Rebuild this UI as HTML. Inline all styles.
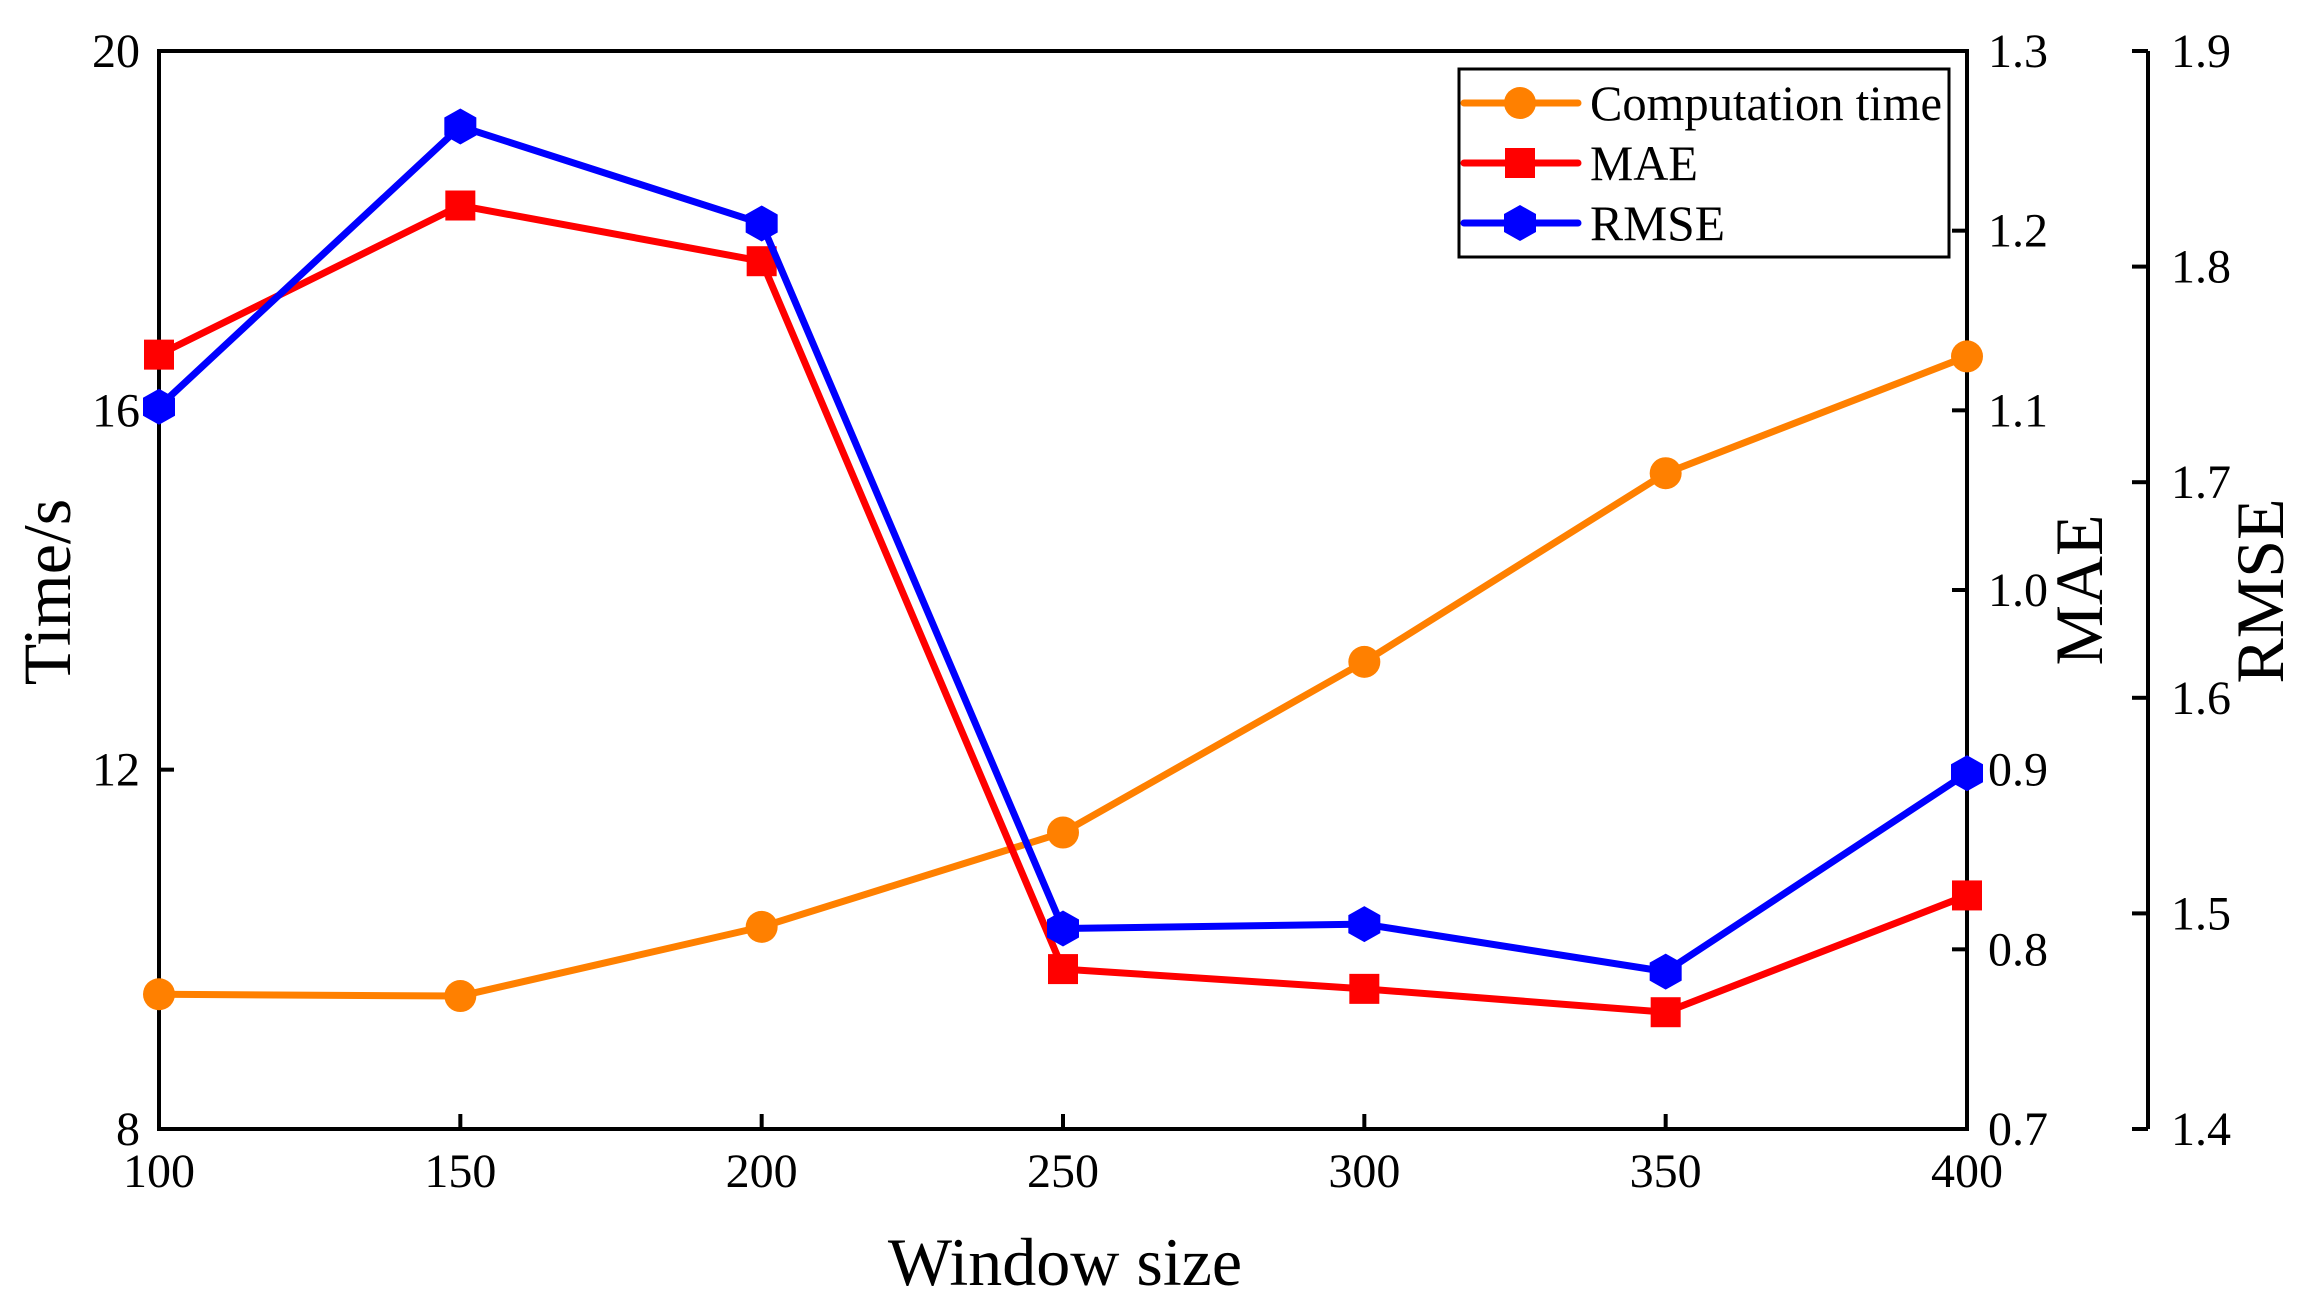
<!DOCTYPE html>
<html><head><meta charset="utf-8"><style>
html,body{margin:0;padding:0;background:#fff}
svg text{font-family:"Liberation Serif",serif;fill:#000}
</style></head><body>
<svg id="chart" width="2302" height="1310" viewBox="0 0 2302 1310" xmlns="http://www.w3.org/2000/svg">
<g id="grid"></g>
</svg>
<script>
const categories=[100,150,200,250,300,350,400];
const timeValues=[9.5,9.48,10.25,11.3,13.2,15.3,16.6];
const maeValues=[1.131,1.214,1.183,0.789,0.778,0.765,0.830];
const rmseValues=[1.735,1.865,1.820,1.493,1.495,1.473,1.565];
const xTicks=[100,150,200,250,300,350,400];
const timeTicks=[8,12,16,20];
const maeTicks=[0.7,0.8,0.9,1.0,1.1,1.2,1.3];
const rmseTicks=[1.4,1.5,1.6,1.7,1.8,1.9];

const L=159,R=1967,T=51,B=1129,RA=2148;
const NS='http://www.w3.org/2000/svg';
const svg=document.getElementById('chart');
function x(v){return L+(v-100)/300*(R-L);}
function yT(v){return B-(v-8)/12*(B-T);}
function yM(v){return B-(v-0.7)/0.6*(B-T);}
function yR(v){return B-(v-1.4)/0.5*(B-T);}
function mk(tag,attrs,parent){const e=document.createElementNS(NS,tag);for(const k in attrs)e.setAttribute(k,attrs[k]);(parent||svg).appendChild(e);return e;}
function txt(s,attrs){const e=mk('text',attrs);e.textContent=s;return e;}

let f=mk('rect',{x:L,y:T,width:R-L,height:B-T,fill:'none',stroke:'#000','stroke-width':4});


let ra=mk('line',{x1:RA,y1:T,x2:RA,y2:B,stroke:'#000','stroke-width':4});



xTicks.forEach(v=>{
  mk('line',{x1:x(v),y1:B,x2:x(v),y2:B-15,stroke:'#000','stroke-width':4});
  const t=txt(String(v),{x:x(v),y:1187,'font-size':48,'text-anchor':'middle'});
  
  
});
timeTicks.forEach(v=>{
  mk('line',{x1:L,y1:yT(v),x2:L+15,y2:yT(v),stroke:'#000','stroke-width':4});
  const t=txt(String(v),{x:140,y:yT(v)+16,'font-size':48,'text-anchor':'end'});
  
  
});
maeTicks.forEach(v=>{
  mk('line',{x1:R,y1:yM(v),x2:R-15,y2:yM(v),stroke:'#000','stroke-width':4});
  const t=txt(v.toFixed(1),{x:1988,y:yM(v)+16,'font-size':48});
  
  
});
rmseTicks.forEach(v=>{
  mk('line',{x1:RA,y1:yR(v),x2:RA-16,y2:yR(v),stroke:'#000','stroke-width':4});
  const t=txt(v.toFixed(1),{x:2171,y:yR(v)+16,'font-size':48});
  
  
});

let xt=txt('Window size',{x:1065,y:1285,'font-size':68,'text-anchor':'middle'});


let yt=txt('Time/s',{x:0,y:0,'font-size':68,'text-anchor':'middle',transform:'translate(70,592) rotate(-90)'});


let mt=txt('MAE',{x:0,y:0,'font-size':68,'text-anchor':'middle',transform:'translate(2102,590) rotate(-90)'});


let rt=txt('RMSE',{x:0,y:0,'font-size':68,'text-anchor':'middle',transform:'translate(2283,591) rotate(-90)'});



function hex(cx,cy){const w=16,h=18;return [[cx,cy-h],[cx+w,cy-h/2],[cx+w,cy+h/2],[cx,cy+h],[cx-w,cy+h/2],[cx-w,cy-h/2]].map(p=>p.join(',')).join(' ');}
function marker(type,cx,cy,color){
  if(type==='circle')return mk('circle',{cx:cx,cy:cy,r:16,fill:color});
  if(type==='square')return mk('rect',{x:cx-15,y:cy-15,width:30,height:30,fill:color});
  return mk('polygon',{points:hex(cx,cy),fill:color});
}
function series(vals,yf,color,type,name){
  const pts=vals.map((v,i)=>[x(categories[i]),yf(v)]);
  const pl=mk('polyline',{points:pts.map(p=>p.join(',')).join(' '),fill:'none',stroke:color,'stroke-width':7,'stroke-linejoin':'round'});
  
  
  pts.forEach(p=>{
    const m=marker(type,p[0],p[1],color);
    
    
  });
}
series(timeValues,yT,'#ff8000','circle','computation-time');
series(maeValues,yM,'#ff0000','square','mae');
series(rmseValues,yR,'#0000ff','hex','rmse');

const lg=mk('g',{});


mk('rect',{x:1459,y:69,width:490,height:188,fill:'#fff',stroke:'#000','stroke-width':3},lg);
const legNames=['Computation time','MAE','RMSE'];
const legColors=['#ff8000','#ff0000','#0000ff'];
const legTypes=['circle','square','hex'];
const legNs=['legend-computation-time','legend-mae','legend-rmse'];
const legLens=[352,108,135];
[103,163,223].forEach((yy,i)=>{
  mk('line',{x1:1464,y1:yy,x2:1578,y2:yy,stroke:legColors[i],'stroke-width':7,'stroke-linecap':'round'},lg);
  const m=marker(legTypes[i],1520,yy,legColors[i]);lg.appendChild(m);
  const t=txt(legNames[i],{x:1590,y:yy+17,'font-size':50,textLength:legLens[i],lengthAdjust:'spacingAndGlyphs'});lg.appendChild(t);
  
  
});
</script>
</body></html>
